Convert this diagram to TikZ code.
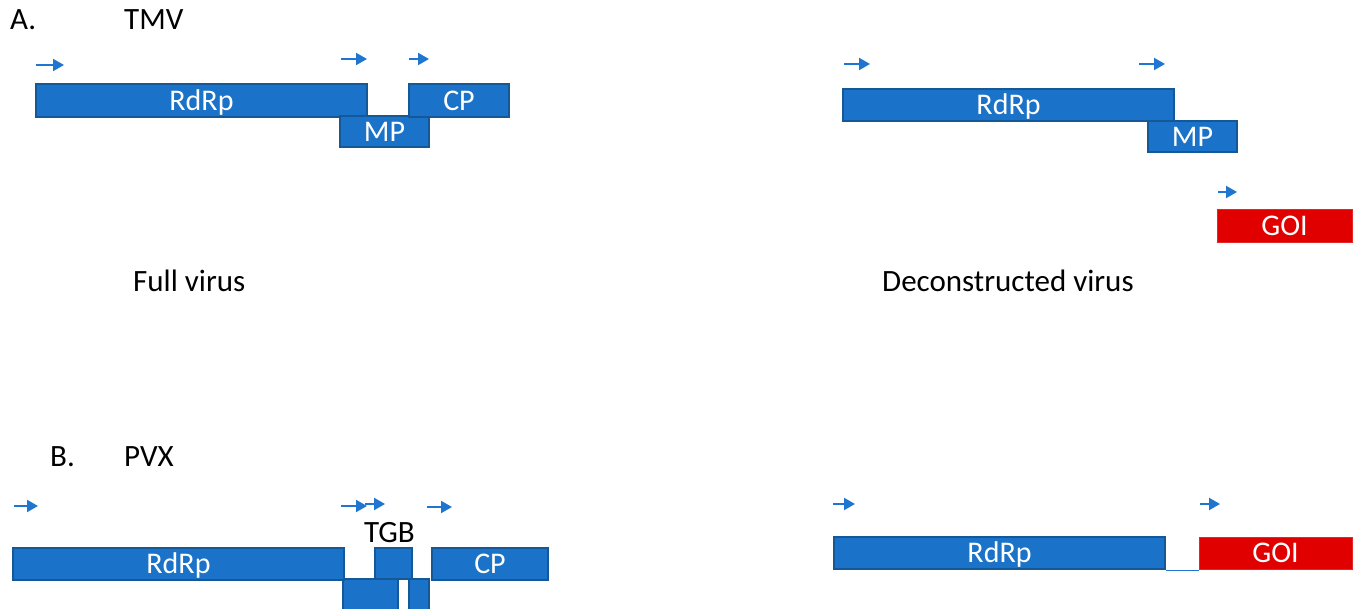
\documentclass[tikz,border=0pt]{standalone}
\usepackage{fontspec}
\setmainfont{Carlito}
\usetikzlibrary{arrows.meta}
\definecolor{genefill}{RGB}{26,115,200}
\definecolor{geneedge}{RGB}{20,88,152}
\definecolor{goifill}{RGB}{224,0,0}
\definecolor{promcol}{RGB}{30,118,208}
\tikzset{
  gene/.style={rectangle, draw=geneedge, fill=genefill, line width=1.5pt, inner sep=0pt,
    text=white, font=\fontsize{30}{36}\selectfont, text height=19.3pt, text depth=0pt},
  goi/.style={gene, draw=goifill!85!white, fill=goifill, line width=1pt},
  prom/.style={draw=promcol, line width=2pt, -{Triangle[length=11pt,width=12pt]}},
  lbl/.style={anchor=base west, inner sep=0pt, font=\fontsize{31}{36}\selectfont},
  link/.style={draw=promcol, line width=1.2pt}
}
\begin{document}
\begin{tikzpicture}[x=1pt,y=-1pt]
\clip (0,0) rectangle (1357,609);
\fill[white] (0,0) rectangle (1357,609);

% ---- A. TMV full
\node[lbl] (tA) at (10,30) {A.};
\node[lbl] (tTMV) at (124,30) {TMV};
\draw[prom] (36,65) -- (64,65);
\draw[prom] (341,59) -- (367,59);
\draw[prom] (409,59) -- (429,59);
\node[gene, minimum width=331, minimum height=33] (rdrpA) at (201.5,100.5) {RdRp};
\node[gene, minimum width=89, minimum height=31] (mpA) at (384.5,131.5) {MP};
\node[gene, minimum width=100, minimum height=33] (cpA) at (459,100.5) {CP};
\node[lbl] (full) at (133,292) {Full virus};

% ---- A. TMV deconstructed
\draw[prom] (844,64) -- (870,64);
\draw[prom] (1139,64) -- (1165,64);
\draw[prom] (1218,192) -- (1237,192);
\node[gene, minimum width=331, minimum height=32] (rdrpB) at (1008.5,105) {RdRp};
\node[gene, minimum width=89, minimum height=31] (mpB) at (1192.5,136.5) {MP};
\node[goi, minimum width=135, minimum height=33] (goiB) at (1284.5,226) {GOI};
\node[lbl] (decon) at (882,292) {Deconstructed virus};

% ---- B. PVX full
\node[lbl] (tB) at (50,466) {B.};
\node[lbl] (tPVX) at (124,466) {PVX};
\draw[prom] (14,506) -- (38,506);
\draw[prom] (341,506) -- (367,506);
\draw[prom] (365,504) -- (385,504);
\draw[prom] (427,507) -- (452,507);
\node[lbl] (tgb) at (364,542) {TGB};
\node[gene, minimum width=55, minimum height=46] (tgbB) at (370.5,602) {};
\node[gene, minimum width=20, minimum height=46] (tgbC) at (419,602) {};
\node[gene, minimum width=331, minimum height=32] (rdrpC) at (178.5,564) {RdRp};
\node[gene, minimum width=37, minimum height=31] (tgbA) at (393.5,563.5) {};
\node[gene, minimum width=116, minimum height=32] (cpC) at (490,564) {CP};

% ---- B. PVX deconstructed
\draw[prom] (833,504) -- (855,504);
\draw[prom] (1200,504) -- (1220,504);
\node[gene, minimum width=331, minimum height=32] (rdrpD) at (999.5,553) {RdRp};
\node[goi, minimum width=153, minimum height=32] (goiD) at (1275.5,553) {GOI};
\draw[link] ([yshift=-0.8pt]rdrpD.south east) -- ([yshift=-0.8pt]rdrpD.south east -| goiD.west);
\end{tikzpicture}
\end{document}
